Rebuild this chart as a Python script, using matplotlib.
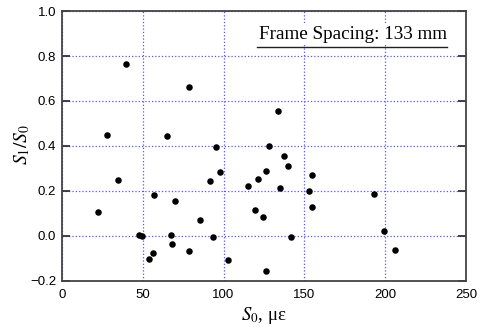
import numpy as np
import matplotlib
matplotlib.use("Agg")
import matplotlib.pyplot as plt

# Data
s0 = [22.3, 28.2, 34.8, 39.8, 48.0, 49.7, 54.0, 56.5, 56.9, 65.1,
      67.6, 68.4, 69.9, 78.5, 78.5, 85.5, 91.9, 93.8, 95.6, 97.7,
      102.8, 115.0, 119.7, 121.4, 124.7, 126.5, 126.5, 128.0, 133.8, 135.0,
      137.7, 139.9, 142.0, 152.7, 154.8, 154.6, 193.1, 199.1, 206.1]
ratio = [0.108, 0.447, 0.248, 0.764, 0.004, 0.001, -0.102, -0.077, 0.181, 0.443,
         0.003, -0.036, 0.157, 0.662, -0.067, 0.070, 0.243, -0.004, 0.396, 0.285,
         -0.108, 0.220, 0.114, 0.251, 0.085, 0.289, -0.157, 0.400, 0.555, 0.211,
         0.354, 0.311, -0.006, 0.200, 0.270, 0.126, 0.184, 0.021, -0.064]

xticks = [0, 50, 100, 150, 200, 250]
yticks = [-0.2, 0.0, 0.2, 0.4, 0.6, 0.8, 1.0]

plt.rcParams['font.family'] = ['Liberation Sans', 'DejaVu Sans']
plt.rcParams['mathtext.fontset'] = 'stix'

fig = plt.figure(figsize=(4.79, 3.27), dpi=100)
ax = fig.add_axes([0.129, 0.1415, 0.844, 0.8245])

ax.scatter(s0, ratio, s=22, color='black', zorder=3, linewidths=0)

ax.set_xlim(0, 250)
ax.set_ylim(-0.2, 1.0)
ax.set_xticks(xticks)
ax.set_yticks(yticks)
ax.set_yticklabels(['\u22120.2', '0.0', '0.2', '0.4', '0.6', '0.8', '1.0'])
ax.grid(True, color='#5555ff', linestyle=':', linewidth=0.9)
ax.set_axisbelow(True)

for sp in ax.spines.values():
    sp.set_color('#444444')
    sp.set_linewidth(1.3)

ax.tick_params(axis='y', direction='in', left=True, right=True, length=6,
               width=1.3, color='#333333', labelsize=9.5, pad=4)
ax.tick_params(axis='x', length=0, labelsize=9.5, pad=6)

ax.set_xlabel('$S_0$, \u03bc\u03b5', family='Liberation Serif', fontsize=13.5, labelpad=3)
ax.set_ylabel('$S_1/S_0$', fontsize=14)
ax.yaxis.set_label_coords(-0.0735, 0.507)

# label with white background and a rule under it
ax.text(0.954, 0.915, 'Frame Spacing: 133 mm', transform=ax.transAxes,
        ha='right', va='center', family='Liberation Serif', fontsize=13.8,
        bbox=dict(facecolor='white', edgecolor='none', pad=2))
ax.plot([0.483, 0.954], [0.866, 0.866], transform=ax.transAxes,
        color='#222222', linewidth=1.0, zorder=4)

fig.savefig('out.png', dpi=100)
